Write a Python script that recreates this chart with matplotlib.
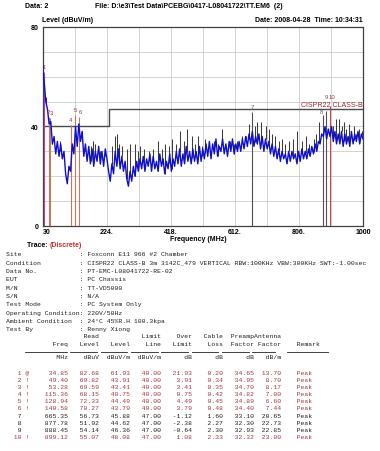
import matplotlib
matplotlib.use('Agg')
import matplotlib.pyplot as plt
import numpy as np

# ---------------- data ----------------
trace_levels = [
    65, 58, 50, 47, 41, 42, 33, 36, 29, 34,
    28, 33, 27, 30, 21, 17, 24, 22, 33, 29,
    40, 32, 41, 34, 38, 28, 33, 26, 32, 25,
    31, 24, 30, 26, 32, 25, 30, 24, 31, 27,
    22, 18, 25, 21, 30, 24, 31, 23, 28, 22,
    26, 19, 16, 22, 18, 24, 20, 26, 22, 27,
    23, 28, 22, 27, 24, 29, 22, 28, 23, 26,
    22, 29, 24, 27, 21, 26, 23, 29, 22, 27,
    24, 30, 25, 31, 24, 29, 25, 32, 26, 30,
    25, 31, 26, 30, 25, 32, 26, 31, 27, 33,
    28, 34, 27, 33, 29, 35, 28, 32, 30, 35,
    29, 33, 28, 34, 30, 35, 29, 33, 30, 34,
    30, 35, 31, 36, 32, 37, 33, 38, 32, 36,
    33, 37, 31, 36, 30, 35, 31, 34, 29, 33,
    28, 32, 27, 31, 26, 30, 27, 29, 25, 30,
    26, 30, 27, 29, 25, 30, 26, 31, 27, 30,
    27, 31, 28, 32, 29, 33, 30, 34, 33, 37,
    36, 40, 35, 39, 36, 40, 34, 38, 33, 37,
    33, 38, 32, 37, 33, 36, 32, 38, 33, 37,
    34, 38, 33, 37, 35,
]
trace_fmin, trace_fmax = 30, 1000

spike_freq = [42, 60, 82, 150, 158, 168, 176, 183, 190, 205,
              218, 240, 249, 256, 263, 270, 285, 296, 310, 318,
              325, 338, 352, 365, 380, 392, 400, 412, 421, 434,
              446, 458, 467, 482, 492, 501, 512, 522, 535, 548,
              560, 573, 586, 598, 610, 619, 634, 645, 654, 672,
              680, 692, 705, 714, 724, 735, 746, 756, 765, 775,
              788, 801, 814, 826, 838, 851, 858, 866, 910, 918,
              927, 935, 942, 950, 958, 965, 972, 980, 988, 996]
spike_top = [52, 35, 34, 34, 30, 31, 32, 34, 33, 30,
             31, 32, 36, 37, 33, 32, 31, 33, 33, 30,
             32, 31, 30, 31, 34, 31, 33, 32, 35, 33,
             38, 34, 39, 36, 33, 36, 32, 35, 33, 34,
             33, 39, 32, 34, 33, 34, 36, 35, 41, 40,
             42, 42, 40, 39, 37, 36, 34, 35, 33, 34,
             35, 38, 34, 36, 33, 35, 37, 42, 40, 43,
             43, 40, 42, 39, 41, 38, 40, 37, 39, 38]

limit_freq = [30, 230, 230, 1000]
limit_level = [40, 40, 47, 47]

mk_no = [1, 2, 3, 4, 5, 6, 7, 8, 9, 10]
mk_flag = ['@', '!', '!', '!', '!', '!', '', '', '', '!']
mk_freq = [34.85, 49.40, 53.28, 115.36, 128.94, 140.58, 665.35, 877.78, 888.45, 899.12]
mk_read = [82.68, 69.82, 69.59, 68.15, 72.33, 70.27, 56.73, 51.92, 54.14, 55.07]
mk_level = [61.93, 43.91, 43.41, 40.75, 44.49, 43.79, 45.88, 44.62, 46.36, 48.08]
mk_limit = [40.00, 40.00, 40.00, 40.00, 40.00, 40.00, 47.00, 47.00, 47.00, 47.00]
mk_over = [21.93, 3.91, 3.41, 0.75, 4.49, 3.79, -1.12, -2.38, -0.64, 1.08]
mk_cable = [0.20, 0.34, 0.35, 0.42, 0.45, 0.48, 1.60, 2.27, 2.30, 2.33]
mk_preamp = [34.65, 34.95, 34.70, 34.82, 34.89, 34.40, 33.10, 32.30, 32.93, 32.32]
mk_ant = [13.70, 8.70, 8.17, 7.00, 6.60, 7.44, 20.65, 22.73, 22.85, 23.00]
mk_remark = ['Peak'] * 10

x_major = [30, 127, 224, 321, 418, 515, 612, 709, 806, 903, 1000]
x_labels = ['30', '', '224.', '', '418.', '', '612.', '', '806.', '', '1000']
y_major = [0, 10, 20, 30, 40, 50, 60, 70, 80]
y_labels = ['0', '', '', '', '40', '', '', '', '80']

info_labels = ['Site', 'Condition', 'Data No.', 'EUT', 'M/N', 'S/N', 'Test Mode',
               'Operating Condition', 'Ambient Condition', 'Test By']
info_values = ['Foxconn E11 966 #2 Chamber',
               'CISPR22 CLASS-B 3m 3142C_479 VERTICAL RBW:100KHz VBW:300KHz SWT:-1.00sec',
               'PT-EMC-L08041722-RE-02', 'PC Chassis', 'TT-VD5000', 'N/A',
               'PC System Only', '220V/50Hz', '24\u00b0C 45%R.H 100.3kpa', 'Renny Xiong']

# ---------------- figure ----------------
W, H = 380, 452
fig = plt.figure(figsize=(W / 100, H / 100), dpi=100)
fig.patch.set_facecolor('white')
L, R, T, B = 42.5, 363, 28, 227
ax = fig.add_axes([L / W, 1 - B / H, (R - L) / W, (B - T) / H])

RED = '#9e3a3a'
SANS = 'Liberation Sans'
MONO = 'Liberation Mono'

freqs = np.linspace(trace_fmin, trace_fmax, len(trace_levels))
base = np.interp(spike_freq, freqs, trace_levels)

ax.plot(limit_freq, limit_level, color='#4a4a4a', lw=1.0, zorder=2)
ax.vlines(spike_freq, base, spike_top, color='#3c3c3c', lw=0.75, zorder=3)
flagged = [f != '' for f in mk_flag]
for i in range(len(mk_no)):
    if mk_no[i] == 1:
        c = '#b040c0'
    elif mk_no[i] == 10:
        c = '#c04848'
    elif flagged[i]:
        c = '#c07a60'
    else:
        c = '#505050'
    ax.vlines(mk_freq[i], 0, mk_level[i], color=c, lw=0.8, zorder=3)
ax.plot(freqs, trace_levels, color='#1010c8', lw=1.0, zorder=4)

lbl_off = {1: (0, 1.0), 2: (-2, 1.2), 3: (3, 1.2), 4: (0, 1.2), 5: (0, 1.2), 6: (4, 1.2),
           7: (0, 1.2), 8: (-3, 0.3), 9: (0, 4.6), 10: (8, 2.9)}
for i in range(len(mk_no)):
    dx, dy = lbl_off[mk_no[i]]
    ax.text(mk_freq[i] + dx, mk_level[i] + dy, str(mk_no[i]), fontsize=4.3,
            family=SANS, color=RED if flagged[i] else '#606060',
            ha='center', va='bottom', zorder=5)
ax.text(998, 47.4, 'CISPR22 CLASS-B', fontsize=5, family=SANS, color='#a02828',
        ha='right', va='bottom', zorder=5)

ax.set_xlim(30, 1000)
ax.set_ylim(0, 80)
ax.set_xticks(x_major)
ax.set_xticklabels(x_labels, fontsize=5, family=SANS, weight='bold')
ax.get_xticklabels()[0].set_horizontalalignment('left')
ax.set_yticks(y_major)
ax.set_yticklabels(y_labels, fontsize=5, family=SANS, weight='bold')
ax.tick_params(length=0, pad=1.5)
ax.tick_params(axis='y', pad=2.5)
ax.grid(True, color='#cccccc', lw=0.6)
ax.set_axisbelow(True)
for s in ax.spines.values():
    s.set_color('#404040')
    s.set_linewidth(0.9)

# ---------------- text overlay ----------------
tx = fig.add_axes([0, 0, 1, 1])
tx.set_xlim(0, W)
tx.set_ylim(H, 0)
tx.axis('off')

hb = dict(fontsize=5, family=SANS, weight='bold', va='center')
tx.text(25, 6, 'Data: 2', **hb)
tx.text(95, 6, 'File: D:\\e3\\Test Data\\PCEBG\\0417-L08041722\\TT.EM6  (2)', **hb)
tx.text(42, 20, 'Level (dBuV/m)', **hb)
tx.text(363, 20, 'Date: 2008-04-28  Time: 10:34:31', ha='right', **hb)
tx.text((L + R) / 2 - 4, 240, 'Frequency (MHz)', ha='center', **hb)
tx.text(27, 246, 'Trace: ', **hb)
tx.text(50, 246, '(Discrete)', color='#c03030', **hb)

MFS = 4.55
cw = 0.6 * MFS * 100 / 72.0
mono = dict(fontsize=MFS, family=MONO, va='center', color='#202020')
for k in range(len(info_labels)):
    y = 255 + k * 8.3
    tx.text(6, y, f"{info_labels[k]:<19}: {info_values[k]}", **mono)

x0 = 6
widths = [8, 8, 8, 8, 8, 8, 7]
def cols(vals):
    return "".join(f"{v:>{w}}" for v, w in zip(vals, widths))
h1 = " " * 16 + cols(['Read', '', 'Limit', 'Over', 'Cable', 'Preamp', 'Antenna'])
h2 = " " * 6 + f"{'Freq':>10}" + cols(['Level', 'Level', 'Line', 'Limit', 'Loss', 'Factor', 'Factor']) + "    Remark"
h3 = " " * 6 + f"{'MHz':>10}" + cols(['dBuV', 'dBuV/m', 'dBuV/m', 'dB', 'dB', 'dB', 'dB/m'])
tx.text(x0, 337, h1, **mono)
tx.text(x0, 345, h2, **mono)
tx.text(x0, 358, h3, **mono)
segs = [(5, 16)]
pos = 16
for w in widths:
    segs.append((pos + 1, pos + w))
    pos += w
segs.append((pos + 3, pos + 14))
for a, b in segs:
    tx.plot([x0 + a * cw, x0 + b * cw], [353, 353], color='#202020', lw=0.6)

for i in range(len(mk_no)):
    vals = [f"{v:.2f}" for v in [mk_read[i], mk_level[i], mk_limit[i], mk_over[i],
                                 mk_cable[i], mk_preamp[i], mk_ant[i]]]
    row = f"{mk_no[i]:>4} {mk_flag[i]:1}{mk_freq[i]:>10.2f}" + cols(vals) + "    " + mk_remark[i]
    col = RED if flagged[i] else '#202020'
    tx.text(x0, 373 + i * 7.2, row, fontsize=MFS, family=MONO, va='center', color=col)

fig.savefig('out.png', dpi=100)
